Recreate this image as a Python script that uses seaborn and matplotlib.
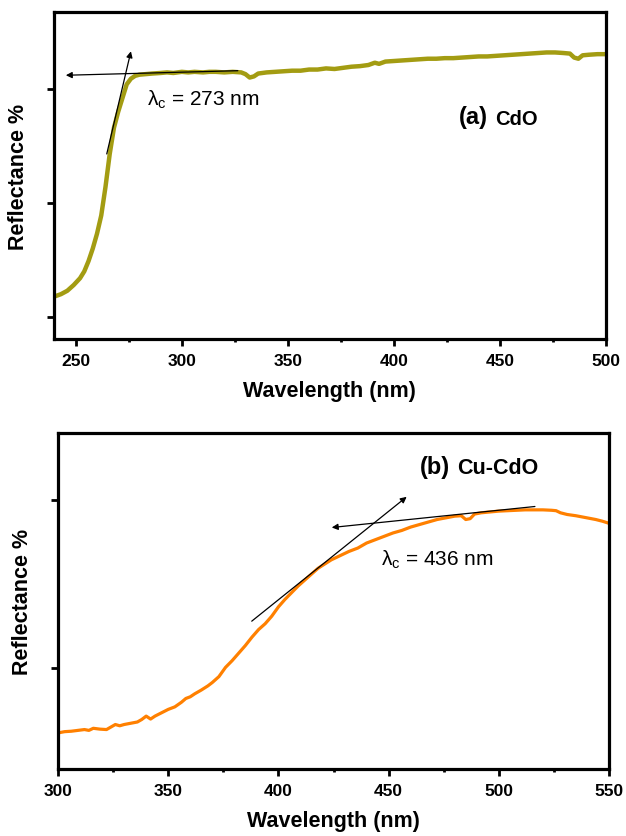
import numpy as np
import pandas as pd
import matplotlib
matplotlib.use("Agg")
import matplotlib.pyplot as plt
import seaborn as sns
from matplotlib.ticker import MultipleLocator

# ---------------- data ----------------
wl_a = [240, 243, 246, 249, 252, 254, 256, 258, 260, 262, 264, 266, 268, 270, 272,
        274, 276, 278, 280, 283, 286, 290, 293, 296, 300, 303, 306, 310, 313, 316,
        320, 324, 328, 330, 332, 334, 336, 340, 344, 348, 352, 356, 360, 364, 368,
        372, 376, 380, 384, 388, 391, 393, 396, 400, 404, 408, 412, 416, 420, 424,
        428, 432, 436, 440, 444, 448, 452, 456, 460, 464, 468, 472, 476, 480, 483,
        485, 487, 489, 492, 496, 500]
refl_a = [11.8, 12.0, 12.3, 12.8, 13.4, 14.0, 14.9, 16.0, 17.3, 18.9, 21.4, 24.3, 26.6, 28.0, 29.2,
          30.4, 30.9, 31.15, 31.25, 31.3, 31.35, 31.4, 31.45, 31.4, 31.5, 31.45, 31.5, 31.45, 31.5, 31.5,
          31.45, 31.5, 31.45, 31.3, 31.0, 31.1, 31.35, 31.45, 31.5, 31.55, 31.6, 31.6, 31.7, 31.7, 31.8,
          31.75, 31.85, 31.95, 32.0, 32.1, 32.3, 32.2, 32.4, 32.45, 32.5, 32.55, 32.6, 32.65, 32.65, 32.7,
          32.7, 32.75, 32.8, 32.85, 32.85, 32.9, 32.95, 33.0, 33.05, 33.1, 33.15, 33.2, 33.2, 33.15, 33.1,
          32.75, 32.65, 32.95, 33.0, 33.05, 33.05]

wl_b = [300, 303, 306, 309, 312, 314, 316, 319, 322, 324, 326, 328, 330, 333, 336,
        338, 340, 342, 344, 347, 350, 353, 356, 358, 360, 362, 365, 368, 370, 373,
        376, 379, 382, 385, 388, 391, 394, 397, 400, 403, 406, 409, 412, 415, 418,
        421, 424, 428, 432, 436, 440, 444, 448, 452, 456, 460, 464, 468, 472, 476,
        480, 483, 485, 487, 489, 492, 496, 500, 504, 508, 512, 516, 520, 524, 526,
        528, 531, 535, 540, 544, 547, 550]
refl_b = [12.3, 12.45, 12.5, 12.6, 12.7, 12.6, 12.85, 12.75, 12.7, 13.0, 13.3, 13.15, 13.3, 13.45, 13.6,
          13.9, 14.3, 13.95, 14.3, 14.7, 15.1, 15.4, 15.95, 16.4, 16.6, 16.95, 17.4, 17.9, 18.3, 19.0,
          20.1, 20.9, 21.8, 22.7, 23.7, 24.6, 25.3, 26.2, 27.3, 28.2, 29.0, 29.8, 30.5, 31.2, 31.9,
          32.4, 32.9, 33.4, 33.9, 34.3, 34.9, 35.3, 35.7, 36.1, 36.4, 36.8, 37.1, 37.4, 37.7, 37.9,
          38.1, 38.15, 37.7, 37.8, 38.35, 38.5, 38.6, 38.7, 38.75, 38.8, 38.85, 38.85, 38.85, 38.8, 38.75,
          38.5, 38.3, 38.15, 37.9, 37.7, 37.5, 37.25]

xticks_a = [250, 300, 350, 400, 450, 500]
xticks_b = [300, 350, 400, 450, 500, 550]

# tangent lines: (start, end) in data coords, arrow at end
tan_a = [((264.6, 24.3), (276.0, 33.3)), ((326.4, 31.6), (245.3, 31.2))]
tan_b = [((387.9, 25.6), (458.2, 40.4)), ((516.4, 39.25), (424.2, 36.75))]

label_a = ("(a)", "CdO", r"$\lambda_c$ = 273 nm")
label_b = ("(b)", "Cu-CdO", r"$\lambda_c$ = 436 nm")

# ---------------- style ----------------
sns.set_style("ticks")
plt.rcParams["font.family"] = ["Liberation Sans", "DejaVu Sans"]
plt.rcParams["text.color"] = "black"
plt.rcParams["axes.labelcolor"] = "black"
plt.rcParams["xtick.color"] = "black"
plt.rcParams["ytick.color"] = "black"
plt.rcParams["mathtext.fontset"] = "custom"
plt.rcParams["mathtext.rm"] = "Liberation Sans"
plt.rcParams["mathtext.it"] = "Liberation Sans"
plt.rcParams["mathtext.bf"] = "Liberation Sans:bold"

fig = plt.figure(figsize=(6.26, 8.37), dpi=100)
ax1 = fig.add_axes([0.0855, 0.5938, 0.8825, 0.3907])
ax2 = fig.add_axes([0.0927, 0.0800, 0.8801, 0.4015])

df_a = pd.DataFrame({"wl": wl_a, "r": refl_a})
df_b = pd.DataFrame({"wl": wl_b, "r": refl_b})

sns.lineplot(data=df_a, x="wl", y="r", ax=ax1, color="#a39c12", lw=3.2, sort=False)
sns.lineplot(data=df_b, x="wl", y="r", ax=ax2, color="#ff8000", lw=2.3, sort=False)


def style_axes(ax, xlim, ylim, xticks, yticks):
    ax.set_xlim(*xlim)
    ax.set_ylim(*ylim)
    ax.set_xticks(xticks)
    ax.set_xticklabels([str(t) for t in xticks], fontweight="bold", fontsize=12.5, color="black")
    ax.xaxis.set_minor_locator(MultipleLocator(25))
    ax.set_yticks(yticks)
    ax.set_yticklabels([])
    for s in ax.spines.values():
        s.set_visible(True)
        s.set_linewidth(2.3)
        s.set_color("black")
    ax.tick_params(axis="both", which="major", direction="out", length=5, width=2.0, pad=5)
    ax.tick_params(axis="x", which="minor", direction="out", length=2.5, width=2.0)
    ax.set_xlabel("Wavelength (nm)", fontsize=15.5, fontweight="bold", labelpad=9, color="black")
    ax.set_ylabel("Reflectance %", fontsize=15.5, fontweight="bold", labelpad=8, color="black")


style_axes(ax1, (239.5, 500), (8.07, 36.75), xticks_a, [10, 20, 30])
style_axes(ax2, (300, 550), (8.0, 48.0), xticks_b, [20, 40])

for ax, tans in ((ax1, tan_a), (ax2, tan_b)):
    for (p0, p1) in tans:
        ax.annotate("", xy=p1, xytext=p0,
                    arrowprops=dict(arrowstyle="-|>", color="black", lw=0.9,
                                    mutation_scale=9, shrinkA=0, shrinkB=0))

# panel labels
ax1.text(444.3, 27.6, label_a[0], fontsize=17, fontweight="bold", ha="right", va="center")
ax1.text(447.6, 27.4, label_a[1], fontsize=14.5, fontweight="bold", ha="left", va="center")
ax1.text(283.5, 29.1, label_a[2], fontsize=15, ha="left", va="center")

ax2.text(477.9, 44.05, label_b[0], fontsize=17, fontweight="bold", ha="right", va="center")
ax2.text(481.0, 43.9, label_b[1], fontsize=15.5, fontweight="bold", ha="left", va="center")
ax2.text(446.5, 33.0, label_b[2], fontsize=15, ha="left", va="center")

fig.savefig("out.png", dpi=100)
